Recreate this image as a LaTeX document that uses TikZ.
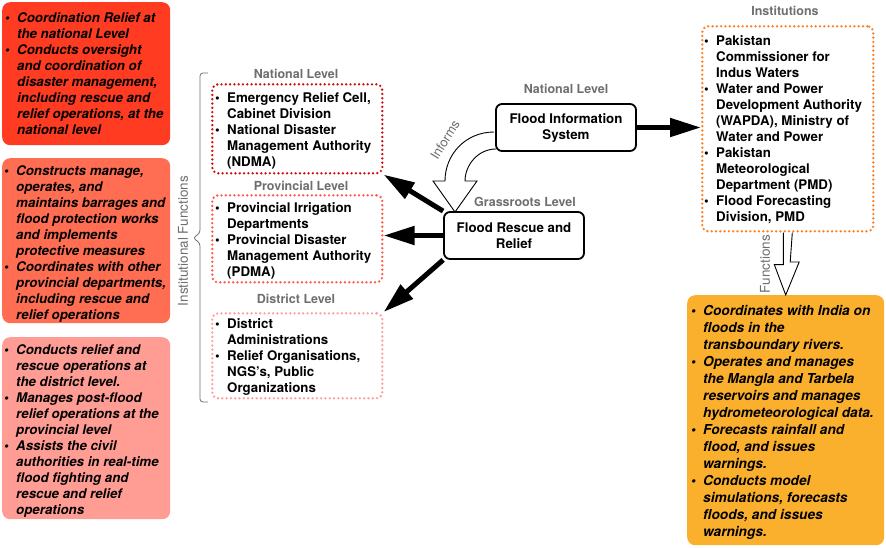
\documentclass[tikz,border=0pt]{standalone}
\usepackage{fontspec}
\setmainfont{TeX Gyre Heros}
\usetikzlibrary{arrows.meta}
\definecolor{cA}{HTML}{FF3B22}
\definecolor{cB}{HTML}{FF6E52}
\definecolor{cC}{HTML}{FF9C94}
\definecolor{cD}{HTML}{FBB02D}
\definecolor{dA}{HTML}{CC1010}
\definecolor{dB}{HTML}{FF5A48}
\definecolor{dC}{HTML}{FFA0A0}
\definecolor{dD}{HTML}{FF7F22}
\definecolor{lbl}{HTML}{6E6E6E}
\newcommand{\mybul}{\makebox[12pt][l]{\textbullet}}
\newcommand{\myind}{\hspace*{12pt}}
\begin{document}
\begin{tikzpicture}[x=1pt,y=-1pt,
  fillbox/.style={rounded corners=8pt, draw=none, anchor=north west, inner sep=0pt},
  dotbox/.style={rounded corners=6pt, line width=2.6pt, dash pattern=on 0pt off 4.3pt, line cap=round, anchor=north west, inner sep=0pt},
  txt/.style={anchor=north west, inner sep=0pt, align=left, font=\fontsize{13.3}{16}\selectfont\bfseries},
  itxt/.style={anchor=north west, inner sep=0pt, align=left, font=\fontsize{13.3}{16}\selectfont\bfseries\itshape},
  lab/.style={inner sep=0pt, text=lbl, font=\fontsize{12.5}{14}\selectfont\bfseries},
  rlab/.style={inner sep=0pt, text=lbl, font=\fontsize{13.5}{15}\selectfont},
  mainbox/.style={draw, line width=1.8pt, rounded corners=6pt, inner sep=0pt, align=center, minimum width=140pt, minimum height=47pt, font=\fontsize{13.3}{16}\selectfont\bfseries},
  bigarrow/.style={line width=5pt, -{Triangle[length=31pt,width=18pt]}},
  hollow/.style={fill=white, draw=black, line width=0.9pt}
]
\useasboundingbox (0,0) rectangle (886,547);

% left function boxes
\node[fillbox, fill=cA, minimum width=168pt, minimum height=143pt] (b1) at (2,2) {};
\node[fillbox, fill=cB, minimum width=168pt, minimum height=165pt] (b2) at (2,158) {};
\node[fillbox, fill=cC, minimum width=168pt, minimum height=182pt] (b3) at (2,337) {};
\node[itxt] (t1) at (5,12) {\mybul Coordination Relief at\\
\myind the national Level\\
\mybul Conducts oversight\\
\myind and coordination of\\
\myind disaster management,\\
\myind including rescue and\\
\myind relief operations, at the\\
\myind national level};
\node[itxt] (t2) at (4,165) {\mybul Constructs manage,\\
\myind operates, and\\
\myind maintains barrages and\\
\myind flood protection works\\
\myind and implements\\
\myind protective measures\\
\mybul Coordinates with other\\
\myind provincial departments,\\
\myind including rescue and\\
\myind relief operations};
\node[itxt] (t3) at (4,344) {\mybul Conducts relief and\\
\myind rescue operations at\\
\myind the district level.\\
\mybul Manages post-flood\\
\myind relief operations at the\\
\myind provincial level\\
\mybul Assists the civil\\
\myind authorities in real-time\\
\myind flood fighting and\\
\myind rescue and relief\\
\myind operations};

% bracket
\draw[lbl, line width=0.8pt, rounded corners=3pt] (208,73) -- (200,73) -- (200,233) -- (193,238) -- (200,243) -- (200,402) -- (208,402);
\node[rlab, rotate=90] (instf) at (183,241) {Institutional Functions};

% level boxes
\node[lab] (lnat) at (296,74) {National Level};
\node[dotbox, draw=dA, minimum width=170pt, minimum height=89pt] (ndma) at (211,83) {};
\node[txt] (tndma) at (215,92) {\mybul Emergency Relief Cell,\\
\myind Cabinet Division\\
\mybul National Disaster\\
\myind Management Authority\\
\myind (NDMA)};
\node[lab] (lprov) at (301,186) {Provincial Level};
\node[dotbox, draw=dB, minimum width=170pt, minimum height=87pt] (pdma) at (211,194) {};
\node[txt] (tpdma) at (215,202) {\mybul Provincial Irrigation\\
\myind Departments\\
\mybul Provincial Disaster\\
\myind Management Authority\\
\myind (PDMA)};
\node[lab] (ldist) at (296,299) {District Level};
\node[dotbox, draw=dC, minimum width=170pt, minimum height=85pt] (dist) at (211,312) {};
\node[txt] (tdist) at (215,318) {\mybul District\\
\myind Administrations\\
\mybul Relief Organisations,\\
\myind NGS’s, Public\\
\myind Organizations};

% informs hollow arrow
\coordinate (ia) at (494,132);
\coordinate (ib) at (496,149);
\filldraw[hollow] (ia) .. controls (466,132) and (445,154) .. (445,181) -- (433,181) -- (455,212) -- (477,181) -- (465,181) .. controls (465,165) and (478,149) .. (ib);
\node[rlab, rotate=58, font=\fontsize{13}{15}\selectfont] (inf) at (445,139.5) {Informs};

% central boxes
\node[lab] (lnat2) at (566,89) {National Level};
\node[mainbox] (fis) at (566,127.5) {Flood Information\\System};
\node[lab] (lgr) at (525,202) {Grassroots Level};
\node[mainbox] (frr) at (514,235.5) {Flood Rescue and\\Relief};

% institutions
\node[lab] (linst) at (785,11) {Institutions};
\node[dotbox, draw=dD, minimum width=171pt, minimum height=205pt] (inst) at (701,25) {};
\node[txt] (tinst) at (704,35) {\mybul Pakistan\\
\myind Commissioner for\\
\myind Indus Waters\\
\mybul Water and Power\\
\myind Development Authority\\
\myind (WAPDA), Ministry of\\
\myind Water and Power\\
\mybul Pakistan\\
\myind Meteorological\\
\myind Department (PMD)\\
\mybul Flood Forecasting\\
\myind Division, PMD};

% functions box
\node[fillbox, fill=cD, minimum width=197pt, minimum height=250pt] (fun) at (687,295) {};
\node[itxt, font=\fontsize{13.7}{17}\selectfont\bfseries\itshape] (tfun) at (691,305) {\mybul Coordinates with India on\\
\myind floods in the\\
\myind transboundary rivers.\\
\mybul Operates and manages\\
\myind the Mangla and Tarbela\\
\myind reservoirs and manages\\
\myind hydrometeorological data.\\
\mybul Forecasts rainfall and\\
\myind flood, and issues\\
\myind warnings.\\
\mybul Conducts model\\
\myind simulations, forecasts\\
\myind floods, and issues\\
\myind warnings.};

% functions hollow arrow
\filldraw[hollow] ([xshift=-4.5pt]inst.south) -- ++(0,32) -- ++(-9,0) -- (fun.north) -- ++(13.5,-33) -- ++(-9,0) -- ([xshift=4.5pt]inst.south);
\node[rlab, rotate=90] (funl) at (765,264) {Functions};

% thick arrows
\draw[bigarrow] (frr.north west) -- (ndma.south east);
\draw[bigarrow] (frr.west) -- (frr.west -| pdma.east);
\draw[bigarrow] (frr.south west) -- (dist.north east);
\draw[bigarrow] (fis.east) -- (fis.east -| inst.west);
\end{tikzpicture}
\end{document}
